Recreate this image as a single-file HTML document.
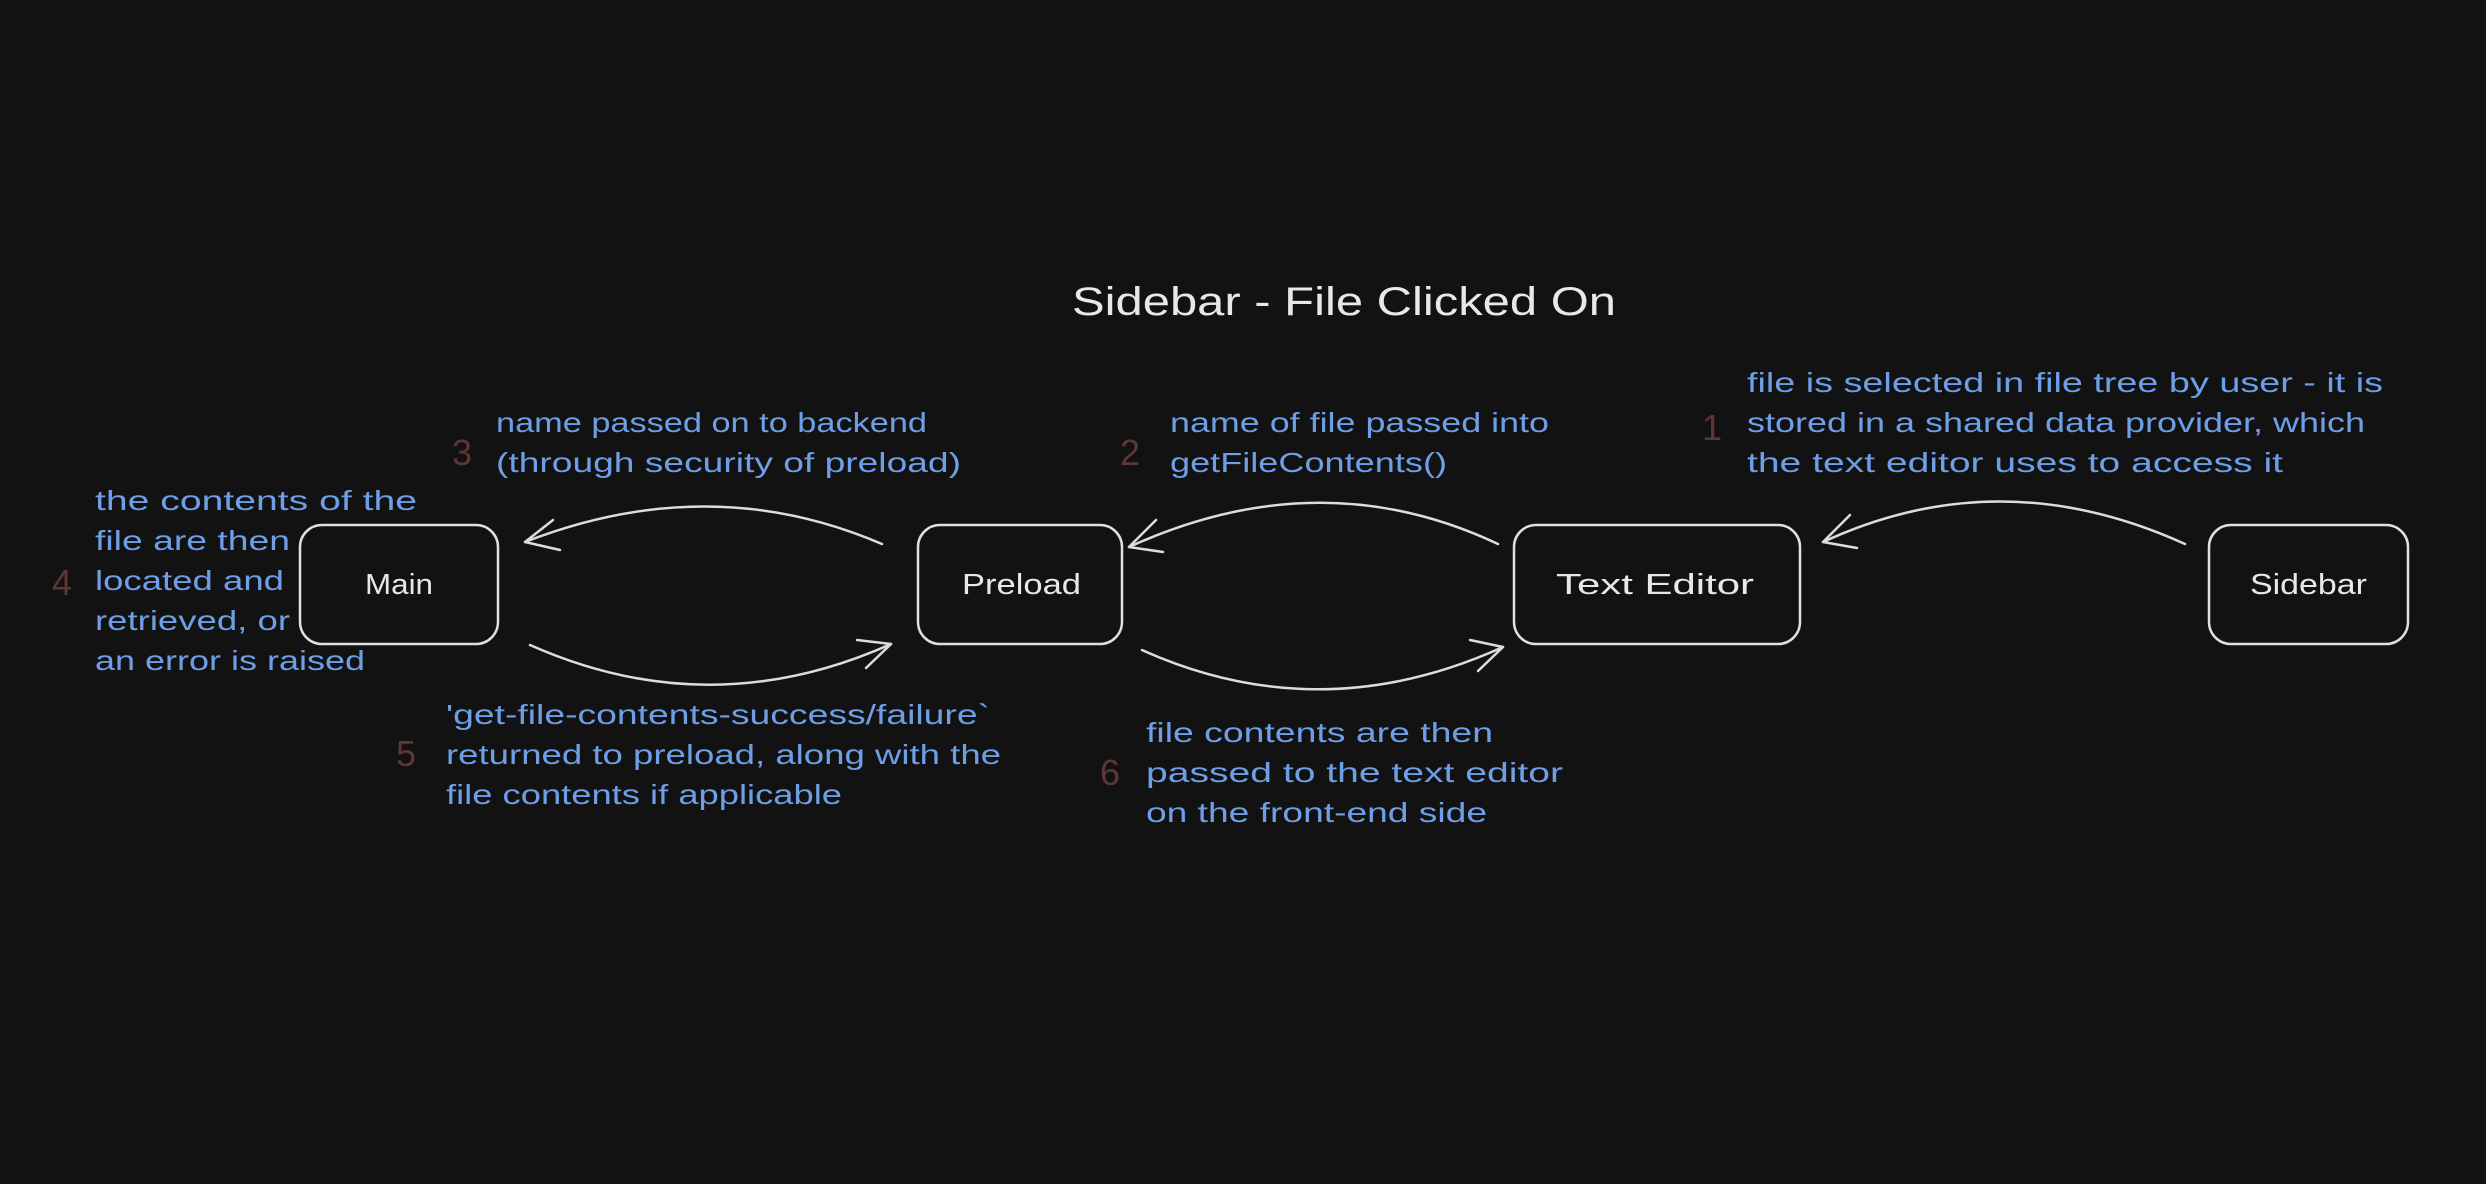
<!DOCTYPE html>
<html><head><meta charset="utf-8"><style>
html,body{margin:0;padding:0;background:#121212;}
svg{display:block}
text{font-family:"Liberation Sans",sans-serif;}
.b{fill:#6e9ee6;font-size:28px;}
.n{fill:#5e3636;font-size:36px;}
.w{fill:#e8e8e8;font-size:29px;}
.bx{fill:none;stroke:#e0e0e0;stroke-width:2.5;}
.ar{fill:none;stroke:#dcdcdc;stroke-width:2.5;stroke-linecap:round;}
</style></head><body>
<svg width="2486" height="1184" viewBox="0 0 2486 1184" xmlns="http://www.w3.org/2000/svg">
<rect width="2486" height="1184" fill="#121212"/>
<text x="1072" y="315" style="fill:#e8e8e8;font-size:40px" textLength="544" lengthAdjust="spacingAndGlyphs">Sidebar - File Clicked On</text>

<rect class="bx" x="300" y="525" width="198" height="119" rx="22"/>
<rect class="bx" x="918" y="525" width="204" height="119" rx="22"/>
<rect class="bx" x="1514" y="525" width="286" height="119" rx="22"/>
<rect class="bx" x="2209" y="525" width="199" height="119" rx="22"/>
<text class="w" x="365" y="594" textLength="68" lengthAdjust="spacingAndGlyphs">Main</text>
<text class="w" x="962" y="594" textLength="119" lengthAdjust="spacingAndGlyphs">Preload</text>
<text class="w" x="1556" y="594" textLength="198" lengthAdjust="spacingAndGlyphs">Text Editor</text>
<text class="w" x="2250" y="594" textLength="117" lengthAdjust="spacingAndGlyphs">Sidebar</text>

<path class="ar" d="M2185 544 Q2000 460 1823 542"/>
<path class="ar" d="M1823 542 L1850 515 M1823 542 L1857 548"/>
<path class="ar" d="M1498 544 Q1320 460 1129 547"/>
<path class="ar" d="M1129 547 L1156 520 M1129 547 L1163 552"/>
<path class="ar" d="M882 544 Q710 470 525 542"/>
<path class="ar" d="M525 542 L553 520 M525 542 L560 550"/>
<path class="ar" d="M530 645 Q710 725 891 644"/>
<path class="ar" d="M891 644 L857 640 M891 644 L866 668"/>
<path class="ar" d="M1142 650 Q1320 730 1503 647"/>
<path class="ar" d="M1503 647 L1470 640 M1503 647 L1478 671"/>

<text class="n" x="1702" y="440">1</text>
<text class="b" x="1747" y="392" textLength="636" lengthAdjust="spacingAndGlyphs">file is selected in file tree by user - it is</text>
<text class="b" x="1747" y="432" textLength="618" lengthAdjust="spacingAndGlyphs">stored in a shared data provider, which</text>
<text class="b" x="1747" y="472" textLength="536" lengthAdjust="spacingAndGlyphs">the text editor uses to access it</text>

<text class="n" x="1120" y="465">2</text>
<text class="b" x="1170" y="432" textLength="379" lengthAdjust="spacingAndGlyphs">name of file passed into</text>
<text class="b" x="1170" y="472" textLength="277" lengthAdjust="spacingAndGlyphs">getFileContents()</text>

<text class="n" x="452" y="465">3</text>
<text class="b" x="496" y="432" textLength="431" lengthAdjust="spacingAndGlyphs">name passed on to backend</text>
<text class="b" x="496" y="472" textLength="465" lengthAdjust="spacingAndGlyphs">(through security of preload)</text>

<text class="n" x="52" y="595">4</text>
<text class="b" x="95" y="510" textLength="322" lengthAdjust="spacingAndGlyphs">the contents of the</text>
<text class="b" x="95" y="550" textLength="195" lengthAdjust="spacingAndGlyphs">file are then</text>
<text class="b" x="95" y="590" textLength="189" lengthAdjust="spacingAndGlyphs">located and</text>
<text class="b" x="95" y="630" textLength="195" lengthAdjust="spacingAndGlyphs">retrieved, or</text>
<text class="b" x="95" y="670" textLength="270" lengthAdjust="spacingAndGlyphs">an error is raised</text>

<text class="n" x="396" y="766">5</text>
<text class="b" x="446" y="724" textLength="544" lengthAdjust="spacingAndGlyphs">'get-file-contents-success/failure`</text>
<text class="b" x="446" y="764" textLength="555" lengthAdjust="spacingAndGlyphs">returned to preload, along with the</text>
<text class="b" x="446" y="804" textLength="396" lengthAdjust="spacingAndGlyphs">file contents if applicable</text>

<text class="n" x="1100" y="785">6</text>
<text class="b" x="1146" y="742" textLength="347" lengthAdjust="spacingAndGlyphs">file contents are then</text>
<text class="b" x="1146" y="782" textLength="417" lengthAdjust="spacingAndGlyphs">passed to the text editor</text>
<text class="b" x="1146" y="822" textLength="341" lengthAdjust="spacingAndGlyphs">on the front-end side</text>
</svg>
</body></html>
